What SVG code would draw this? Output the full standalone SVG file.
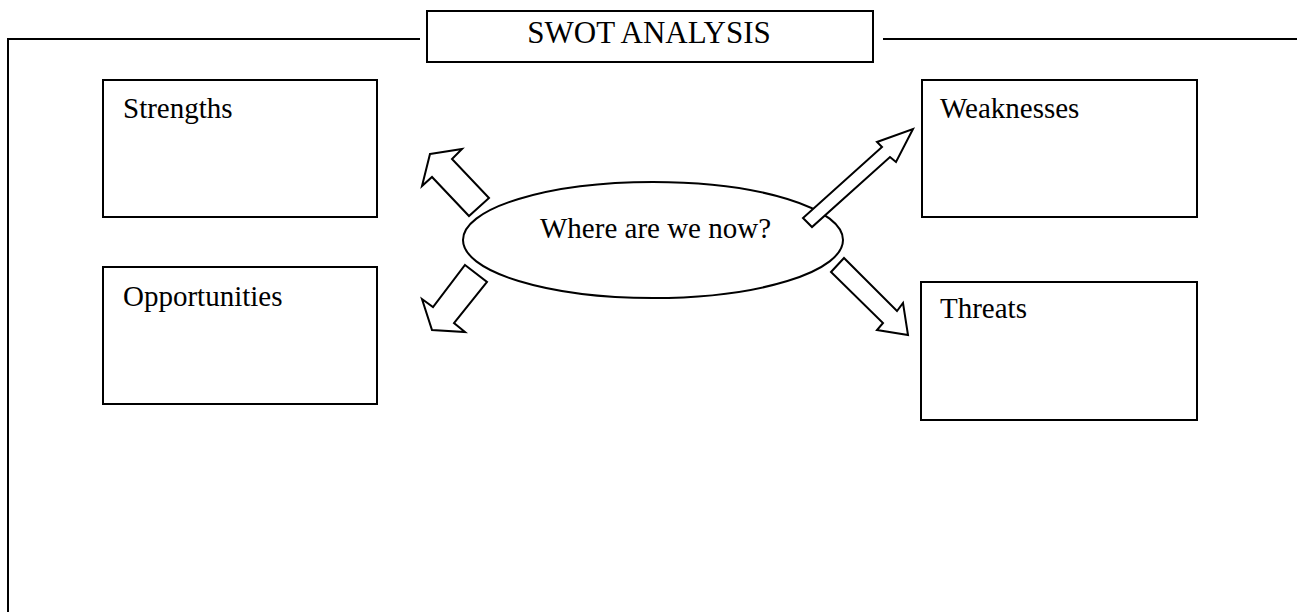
<svg xmlns="http://www.w3.org/2000/svg" width="1301" height="612" viewBox="0 0 1301 612">
<style>
.box{fill:#fff;stroke:#000;stroke-width:2}
.ln{fill:none;stroke:#000;stroke-width:2}
.arr{fill:#fff;stroke:#000;stroke-width:2;stroke-linejoin:miter}
.t{font-family:"Liberation Serif","Times New Roman",serif;font-size:29px;fill:#000}
</style>
<rect width="1301" height="612" fill="#fff"/>
<g id="frame">
<polyline class="ln" points="420,39 8,39 8,612"/>
<line class="ln" x1="883" y1="39" x2="1297" y2="39"/>
</g>
<g id="title">
<rect class="box" x="427" y="11" width="446" height="51"/>
<text class="t" x="649" y="43" text-anchor="middle" style="font-size:31px">SWOT ANALYSIS</text>
</g>
<g id="strengths">
<rect class="box" x="103" y="80" width="274" height="137"/>
<text class="t" x="123" y="118">Strengths</text>
</g>
<g id="opportunities">
<rect class="box" x="103" y="267" width="274" height="137"/>
<text class="t" x="123" y="306">Opportunities</text>
</g>
<g id="weaknesses">
<rect class="box" x="922" y="80" width="275" height="137"/>
<text class="t" x="940" y="118">Weaknesses</text>
</g>
<g id="threats">
<rect class="box" x="921" y="282" width="276" height="138"/>
<text class="t" x="940" y="318">Threats</text>
</g>
<g id="center">
<ellipse class="box" cx="653" cy="240" rx="190" ry="58"/>
<text class="t" x="540" y="238">Where are we now?</text>
</g>
<g id="connectors">
<polygon class="arr" points="430,154 462,149 452,159 489,198 469,216 432,177 422,186"/>
<polygon class="arr" points="465,265 487,282 454,323 465,332 432,330 422,299 433,307"/>
<polygon class="arr" points="913,129 896,162 890,157 812,227 803,218 882,147 877,142"/>
<polygon class="arr" points="844,258 831,272 883,323 877,330 908,335 903,303 897,311"/>
</g>
</svg>
